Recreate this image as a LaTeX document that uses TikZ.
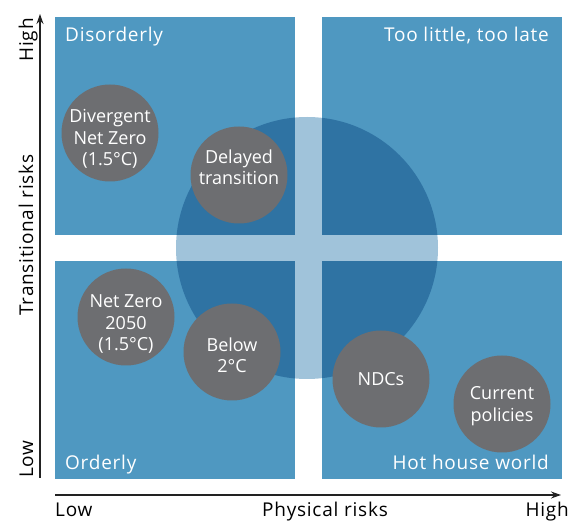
\documentclass[tikz,border=0pt]{standalone}
\usepackage{fontspec}
\setmainfont{Open Sans}
\newfontfamily\labelfont[LetterSpace=4]{Open Sans}
\usetikzlibrary{arrows.meta}
\definecolor{quad}{HTML}{4F98C1}
\definecolor{overlap}{HTML}{2F73A3}
\definecolor{halo}{HTML}{A0C3DA}
\definecolor{bubble}{HTML}{6D6E71}
\definecolor{axis}{HTML}{222222}
\tikzset{
  quadbox/.style={fill=quad, draw=none},
  scen/.style={circle, fill=bubble, draw=none, minimum size=97pt, inner sep=0pt},
  sctext/.style={text=white, align=center, inner sep=0pt,
    font=\fontsize{18}{21.3}\selectfont},
  qlabel/.style={text=white, inner sep=0pt, font=\labelfont\fontsize{19}{21}\selectfont},
  axlabel/.style={text=black, inner sep=0pt, font=\labelfont\fontsize{19}{21}\selectfont},
  axline/.style={draw=axis, line width=1.1pt},
}
\begin{document}
\begin{tikzpicture}[x=1pt, y=-1pt]
\useasboundingbox (0,0) rectangle (571,521);
% big risk circle (light part)
\fill[halo] (307,248) circle (131);
% quadrants
\path[quadbox] (55,17) rectangle (295,235);
\path[quadbox] (322,17) rectangle (562,235);
\path[quadbox] (55,261) rectangle (295,479);
\path[quadbox] (322,261) rectangle (562,479);
% overlap of circle with quadrants
\begin{scope}
  \clip (307,248) circle (131);
  \fill[overlap] (55,17) rectangle (295,235);
  \fill[overlap] (322,17) rectangle (562,235);
  \fill[overlap] (55,261) rectangle (295,479);
  \fill[overlap] (322,261) rectangle (562,479);
\end{scope}
% scenario bubbles
\node[scen] (dnz) at (110,133) {};
\node[scen] (dt) at (239,175) {};
\node[scen] (nz) at (126,317) {};
\node[scen] (b2) at (232,352) {};
\node[scen] (ndc) at (381,379) {};
\node[scen] (cp) at (502,404) {};
\node[sctext] (dnzt) at ([yshift=-6pt]dnz.center) {Divergent\\Net Zero\\(1.5°C)};
\node[sctext] (dtt) at ([yshift=8pt]dt.center) {Delayed\\transition};
\node[sctext] (nzt) at ([yshift=-7pt]nz.center) {Net Zero\\2050\\(1.5°C)};
\node[sctext] (b2t) at ([yshift=-3pt]b2.center) {Below\\2°C};
\node[sctext] (ndct) at (ndc.center) {NDCs};
\node[sctext] (cpt) at ([yshift=-2pt]cp.center) {Current\\policies};
% quadrant labels
\node[qlabel, anchor=base west] (qdis) at (65,42) {Disorderly};
\node[qlabel, anchor=base east] (qtoo) at (549,42) {Too little, too late};
\node[qlabel, anchor=base west] (qord) at (65,470) {Orderly};
\node[qlabel, anchor=base east] (qhot) at (549,470) {Hot house world};
% axes
\coordinate (yb) at (40,478);
\coordinate (yt) at (40,14);
\coordinate (xl) at (55,495);
\coordinate (xr) at (561,495);
\draw[axline, -{Stealth[length=10pt,width=7pt]}] (yb) -- (yt);
\draw[axline, -{Stealth[length=10pt,width=7pt]}] (xl) -- (xr);
% axis labels
\node[axlabel, rotate=90, anchor=base east] (yhigh) at (33,18) {High};
\node[axlabel, rotate=90, anchor=base] (ytitle) at (33,235) {Transitional risks};
\node[axlabel, rotate=90, anchor=base west] (ylow) at (33,478) {Low};
\node[axlabel, anchor=base west] (xlow) at (55,516.5) {Low};
\node[axlabel, anchor=base] (xtitle) at (325,516.5) {Physical risks};
\node[axlabel, anchor=base east] (xhigh) at (569,516.5) {High};
\end{tikzpicture}
\end{document}
